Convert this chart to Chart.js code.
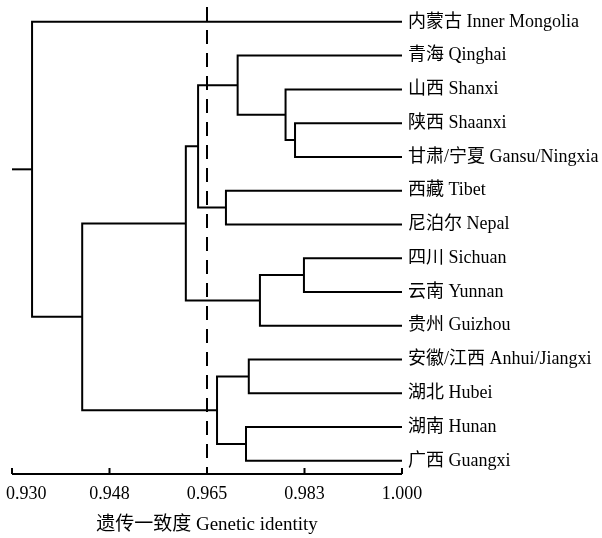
<!DOCTYPE html>
<html lang="zh">
<head>
<meta charset="UTF-8">
<title>Genetic identity dendrogram</title>
<script src="https://cdn.jsdelivr.net/npm/chart.js"></script>
<style>
  html, body { margin: 0; padding: 0; background: #fff; }
  #wrap { width: 602px; height: 538px; }
</style>
</head>
<body>
<div id="wrap"><canvas id="tree"></canvas></div>
<script>
// leaves, top to bottom
const leaves = ['内蒙古 Inner Mongolia', '青海 Qinghai', '山西 Shanxi', '陕西 Shaanxi',
  '甘肃/宁夏 Gansu/Ningxia', '西藏 Tibet', '尼泊尔 Nepal', '四川 Sichuan', '云南 Yunnan',
  '贵州 Guizhou', '安徽/江西 Anhui/Jiangxi', '湖北 Hubei', '湖南 Hunan', '广西 Guangxi'];

// joins: child a, child b, identity where they join (new clusters numbered from 14)
const mergeA = [3, 7, 2, 10, 12, 1, 5, 15, 19, 17, 22, 24, 0];
const mergeB = [4, 8, 14, 11, 13, 16, 6, 9, 20, 18, 21, 23, 25];
const mergeAt = [0.9808, 0.9824, 0.9791, 0.9725, 0.9720, 0.9705, 0.9684, 0.9745, 0.9634, 0.9668, 0.9612, 0.9426, 0.9336];

const cutoff = 0.965;
const tickValues = [0.930, 0.9475, 0.965, 0.9825, 1.000];
const tickLabels = ['0.930', '0.948', '0.965', '0.983', '1.000'];

const FONT = "'Liberation Serif', 'Noto Sans CJK SC', serif";

// node positions: x = identity, y = row
const nodeX = leaves.map(() => 1.0);
const nodeY = leaves.map((_, i) => i);
const datasets = [];
mergeAt.forEach((h, k) => {
  const a = mergeA[k], b = mergeB[k];
  datasets.push({
    data: [{x: nodeX[a], y: nodeY[a]}, {x: h, y: nodeY[a]}, {x: h, y: nodeY[b]}, {x: nodeX[b], y: nodeY[b]}]
  });
  nodeX.push(h);
  nodeY.push((nodeY[a] + nodeY[b]) / 2);
});
// stub from the root
const root = nodeX.length - 1;
datasets.push({ data: [{x: 0.930, y: nodeY[root]}, {x: nodeX[root], y: nodeY[root]}] });
datasets.forEach(d => Object.assign(d, { borderColor: '#000', borderWidth: 2 }));

const yMin = -0.44, yMax = 13.39;
datasets.push({
  data: [{x: cutoff, y: yMin}, {x: cutoff, y: yMax}],
  borderColor: '#000', borderWidth: 2, borderDash: [14, 9]
});

const axisPlugin = {
  id: 'axisPlugin',
  afterDraw(chart) {
    const ctx = chart.ctx, xs = chart.scales.x, area = chart.chartArea;
    ctx.save();
    ctx.strokeStyle = '#000';
    ctx.lineWidth = 2;
    ctx.beginPath();
    ctx.moveTo(area.left, area.bottom);
    ctx.lineTo(area.right, area.bottom);
    tickValues.forEach(v => {
      const px = xs.getPixelForValue(v);
      ctx.moveTo(px, area.bottom);
      ctx.lineTo(px, area.bottom - 6);
    });
    ctx.stroke();
    ctx.fillStyle = '#000';
    ctx.font = '18px ' + FONT;
    ctx.textAlign = 'center';
    ctx.textBaseline = 'middle';
    tickValues.forEach((v, i) => {
      const w = ctx.measureText(tickLabels[i]).width;
      const px = Math.max(xs.getPixelForValue(v), w / 2 + 6);
      ctx.fillText(tickLabels[i], px, area.bottom + 20);
    });
    ctx.restore();
  }
};

new Chart(document.getElementById('tree'), {
  type: 'scatter',
  data: { datasets },
  options: {
    responsive: true,
    maintainAspectRatio: false,
    animation: false,
    showLine: true,
    clip: false,
    elements: { point: { radius: 0 }, line: { tension: 0 } },
    layout: { padding: { left: 12, top: 7, right: 0, bottom: 0 } },
    plugins: { legend: { display: false }, tooltip: { enabled: false } },
    scales: {
      x: {
        type: 'linear',
        min: 0.930,
        max: 1.000,
        grid: { display: false },
        border: { display: false },
        ticks: { display: false },
        afterFit(scale) { scale.height = 64; scale.paddingLeft = 0; scale.paddingRight = 0; },
        title: {
          display: true,
          text: '遗传一致度 Genetic identity',
          color: '#000',
          font: { family: FONT, size: 19 },
          padding: { top: 0, bottom: 2 }
        }
      },
      y: {
        type: 'linear',
        position: 'right',
        reverse: true,
        min: yMin,
        max: yMax,
        grid: { display: false, drawTicks: false },
        border: { display: false },
        afterBuildTicks(scale) { scale.ticks = leaves.map((_, i) => ({ value: i })); },
        afterFit(scale) { scale.width = 200; scale.paddingTop = 0; scale.paddingBottom = 0; },
        ticks: {
          autoSkip: false,
          padding: 6,
          color: '#000',
          font: { family: FONT, size: 18 },
          callback: (v) => leaves[v]
        }
      }
    }
  },
  plugins: [axisPlugin]
});
</script>
</body>
</html>
